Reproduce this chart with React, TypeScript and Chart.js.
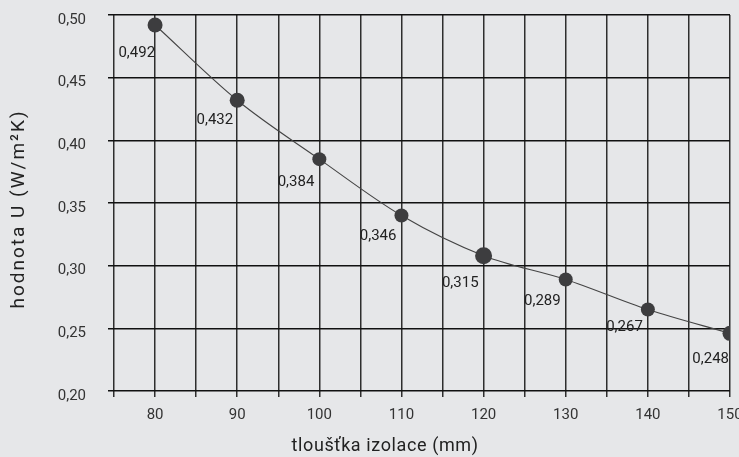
import React, { useEffect, useRef } from "react";
import { Chart, registerables } from "chart.js";

Chart.register(...registerables);

const thickness = [80, 90, 100, 110, 120, 130, 140, 150];
const uPlotted = [0.492, 0.432, 0.385, 0.34, 0.308, 0.289, 0.265, 0.246];
const uLabels = ["0,492", "0,432", "0,384", "0,346", "0,315", "0,289", "0,267", "0,248"];
const xTitle = "tloušťka izolace (mm)";
const yTitle = "hodnota U (W/m\u00B2K)";

const FONT = "Roboto, 'DejaVu Sans', sans-serif";

const labelPlugin = {
  id: "valueLabels",
  afterDatasetsDraw(chart: any, _args: any, opts: any) {
    const meta = chart.getDatasetMeta(0);
    const ctx = chart.ctx;
    ctx.save();
    ctx.font = `15px ${FONT}`;
    ctx.fillStyle = "#222";
    ctx.textAlign = "right";
    ctx.textBaseline = "middle";
    meta.data.forEach((pt: any, i: number) => {
      ctx.fillText(uLabels[i], pt.x + opts.dx[i], pt.y + opts.dy[i]);
    });
    ctx.restore();
  },
};

const titlePlugin = {
  id: "axisTitles",
  afterDraw(chart: any) {
    const ctx = chart.ctx;
    const area = chart.chartArea;
    ctx.save();
    ctx.fillStyle = "#222";
    ctx.textAlign = "center";
    ctx.textBaseline = "middle";
    ctx.font = `18px ${FONT}`;
    (ctx as any).letterSpacing = "0.6px";
    ctx.fillText(xTitle, area.left + (area.right - area.left) * 0.44, chart.height - 11);
    ctx.translate(19, (area.top + area.bottom) / 2 + 6);
    ctx.rotate(-Math.PI / 2);
    ctx.font = `19px ${FONT}`;
    (ctx as any).letterSpacing = "2px";
    ctx.fillText(yTitle, 0, 0);
    ctx.restore();
  },
};

const bgPlugin = {
  id: "bg",
  beforeDraw(chart: any) {
    const ctx = chart.ctx;
    ctx.save();
    ctx.fillStyle = "#e6e7e9";
    ctx.fillRect(0, 0, chart.width, chart.height);
    ctx.restore();
  },
};

export default function App() {
  const ref = useRef<HTMLCanvasElement | null>(null);
  useEffect(() => {
    document.body.style.margin = "0";
    document.body.style.background = "#e6e7e9";
    const chart = new Chart(ref.current as HTMLCanvasElement, {
      type: "line",
      data: {
        datasets: [
          {
            data: thickness.map((x, i) => ({ x, y: uPlotted[i] })),
            borderColor: "#444",
            borderWidth: 1.1,
            backgroundColor: "#3d3d3f",
            pointBackgroundColor: "#3d3d3f",
            pointBorderColor: "#3d3d3f",
            pointRadius: [7.5, 7.5, 7, 7, 8.5, 7, 7, 7.5],
            pointBorderWidth: 0,
            cubicInterpolationMode: "monotone",
            fill: false,
          },
        ],
      },
      options: {
        responsive: false,
        animation: false,
        layout: { padding: { top: 15, right: 9, left: 0, bottom: 0 } },
        plugins: {
          legend: { display: false },
          tooltip: { enabled: false },
          valueLabels: {
            dx: [0, -4, -5, -5, -5, -5, -5, -1],
            dy: [28, 20, 23, 21, 28, 22, 18, 26],
          },
        } as any,
        scales: {
          x: {
            type: "linear",
            min: 75,
            max: 150,
            border: { display: false },
            afterFit: (s: any) => {
              s.height = 66;
              s.paddingLeft = 0;
              s.paddingRight = 0;
            },
            ticks: {
              stepSize: 5,
              autoSkip: false,
              maxRotation: 0,
              padding: 9,
              color: "#333",
              font: { family: FONT, size: 15 },
              callback: (v: any) => (Number(v) % 10 === 0 ? String(v) : ""),
            },
            grid: {
              tickLength: 6,
              color: "#2e2e2e",
              lineWidth: 1.5,
            },
            title: { display: false },
          },
          y: {
            type: "linear",
            min: 0.2,
            max: 0.5,
            border: { display: false },
            afterFit: (s: any) => {
              s.width = 114;
              s.paddingTop = 0;
              s.paddingBottom = 0;
            },
            ticks: {
              stepSize: 0.05,
              padding: 22,
              labelOffset: 5,
              color: "#333",
              font: { family: FONT, size: 15 },
              callback: (v: any) => Number(v).toFixed(2).replace(".", ","),
            },
            grid: {
              tickLength: 6,
              color: "#111",
              lineWidth: 1.5,
            },
            title: { display: false },
          },
        },
      },
      plugins: [bgPlugin, labelPlugin, titlePlugin],
    } as any);
    return () => chart.destroy();
  }, []);
  return (
    <div style={{ width: 739, height: 457, background: "#e6e7e9" }}>
      <canvas ref={ref} width={739} height={457} />
    </div>
  );
}
